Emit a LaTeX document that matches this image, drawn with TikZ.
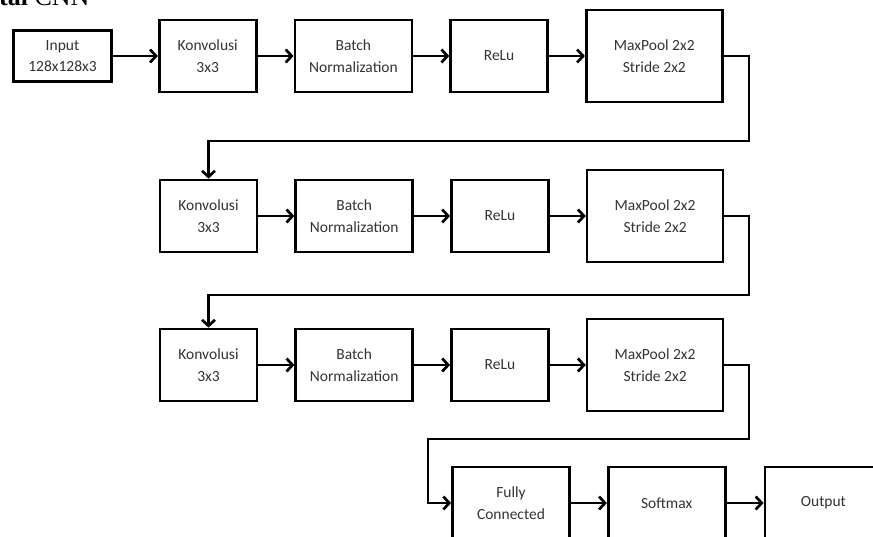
\documentclass[tikz,border=0pt]{standalone}
\usepackage{fontspec}
\setmainfont{Carlito}
\newfontfamily\capfont{Liberation Serif}
\usetikzlibrary{positioning}
\usetikzlibrary{arrows.meta}
\tikzset{
    mybox/.style = {rectangle, line width=2.7pt, draw=black, align=center, fill=white, inner sep=0pt,
                    minimum width=97pt, minimum height=72pt, font=\fontsize{15.5}{21.5}\selectfont, text=black!80},
    myboxb/.style = {mybox, minimum width=117pt},
    myboxm/.style = {mybox, minimum width=136pt, minimum height=92pt},
    myboxi/.style = {mybox, minimum width=98pt, minimum height=51pt},
    edgen/.style = {-{Straight Barb[length=6pt,width=13pt,line width=2.7pt]}, line width=2.7pt, black},
    edgel/.style = {-, line width=2.7pt, black} % loop back
}

\begin{document}
\begin{tikzpicture}[x=1pt, y=-1pt]
  \clip (0,0) rectangle (873,536);
  \fill[white] (0,0) rectangle (873,536);
  \node[anchor=base west, inner sep=0pt, font=\capfont\fontsize{26}{30}\selectfont] (capt) at (-1,5) {\textbf{tal} CNN};

  % row 1
  \node[myboxi] (input) at (62.5,56) {Input\\128x128x3};
  \node[mybox, right=45pt of input] (konva) {Konvolusi\\3x3};
  \node[myboxb, right=36pt of konva] (batcha) {Batch\\Normalization};
  \node[mybox, right=36pt of batcha] (relua) {ReLu};
  \node[myboxm, right=36pt of relua] (poola) {MaxPool 2x2\\Stride 2x2};

  % row 2
  \node[mybox] (konvb) at (208.5,216) {Konvolusi\\3x3};
  \node[myboxb, right=36pt of konvb] (batchb) {Batch\\Normalization};
  \node[mybox, right=36pt of batchb] (relub) {ReLu};
  \node[myboxm, right=36pt of relub] (poolb) {MaxPool 2x2\\Stride 2x2};

  % row 3
  \node[mybox] (konvc) at (208.5,365) {Konvolusi\\3x3};
  \node[myboxb, right=36pt of konvc] (batchc) {Batch\\Normalization};
  \node[mybox, right=36pt of batchc] (reluc) {ReLu};
  \node[myboxm, right=36pt of reluc] (poolc) {MaxPool 2x2\\Stride 2x2};

  % row 4
  \node[myboxb] (fc) at (511,503) {Fully\\Connected};
  \node[myboxb, right=36pt of fc] (soft) {Softmax};
  \node[myboxb, right=37pt of soft] (output) {Output};

  \coordinate (turna) at (749,141);
  \coordinate (turnb) at (749,295);
  \coordinate (turnc) at (749,439);
  \coordinate (turnd) at (428,439);

  \draw[edgen] (input) -- (konva);
  \draw[edgen] (konva) -- (batcha);
  \draw[edgen] (batcha) -- (relua);
  \draw[edgen] (relua) -- (poola);
  \draw[edgen] (poola.east) -| (turna) -| (konvb.north);

  \draw[edgen] (konvb) -- (batchb);
  \draw[edgen] (batchb) -- (relub);
  \draw[edgen] (relub) -- (poolb);
  \draw[edgen] (poolb.east) -| (turnb) -| (konvc.north);

  \draw[edgen] (konvc) -- (batchc);
  \draw[edgen] (batchc) -- (reluc);
  \draw[edgen] (reluc) -- (poolc);
  \draw[edgen] (poolc.east) -| (turnc) -- (turnd) |- (fc.west);

  \draw[edgen] (fc) -- (soft);
  \draw[edgen] (soft) -- (output);
\end{tikzpicture}
\end{document}
